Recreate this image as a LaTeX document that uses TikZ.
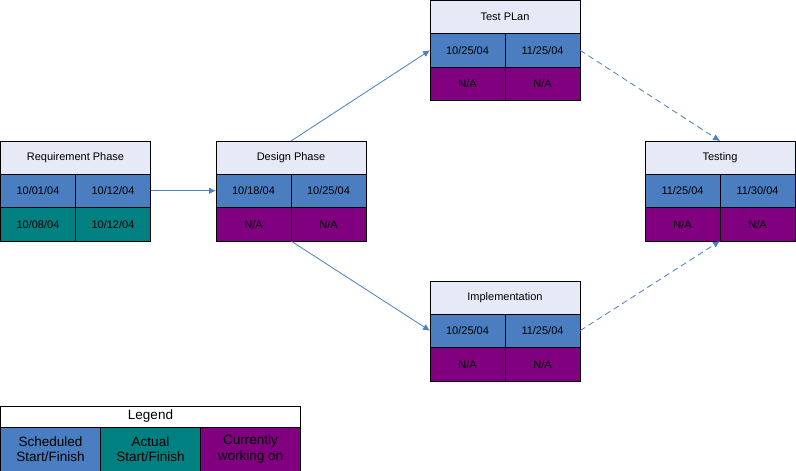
\documentclass[tikz,border=0pt]{standalone}
\usepackage{fontspec}
\setmainfont{Liberation Sans}
\usepackage{tikz}
\usetikzlibrary{arrows.meta,positioning}
\usepackage{xcolor}
\definecolor{titlefill}{RGB}{230,234,246}
\definecolor{schedblue}{RGB}{74,126,193}
\definecolor{actualteal}{RGB}{0,128,128}
\definecolor{workpurple}{RGB}{128,0,128}
\definecolor{linkblue}{RGB}{74,126,193}

\begin{document}
\begin{tikzpicture}[
    x=1pt, y=-1pt,
    titlecell/.style={rectangle, draw=black, line width=0.8pt, fill=titlefill, minimum width=150pt, minimum height=33pt, inner sep=0pt, outer sep=0pt, font=\fontsize{11}{13}\selectfont},
    cell/.style={rectangle, draw=black, line width=0.8pt, minimum width=75pt, minimum height=33.5pt, inner sep=0pt, outer sep=0pt, font=\fontsize{11}{13}\selectfont},
    sched/.style={cell, fill=schedblue},
    actual/.style={cell, fill=actualteal},
    working/.style={cell, fill=workpurple},
    legendcell/.style={rectangle, draw=black, line width=0.8pt, align=center, minimum height=44pt, inner sep=0pt, outer sep=0pt, font=\fontsize{13.5}{15.5}\selectfont},
    arrow/.style={-{Latex[length=7pt,width=6.5pt]}, draw=linkblue, line width=0.8pt},
    dasharrow/.style={arrow, dash pattern=on 6pt off 4pt}
]
\useasboundingbox (0,0) rectangle (796,471);

% Requirement Phase
\node[titlecell, anchor=north west] (req) at (0.5,141) {Requirement Phase};
\node[sched, anchor=north west] (req-s1) at (req.south west) {10/01/04};
\node[sched, anchor=north west] (req-s2) at (req-s1.north east) {10/12/04};
\node[actual, anchor=north west] (req-a1) at (req-s1.south west) {10/08/04};
\node[actual, anchor=north west] (req-a2) at (req-a1.north east) {10/12/04};

% Design Phase
\node[titlecell, anchor=north west] (des) at (216,141) {Design Phase};
\node[sched, anchor=north west] (des-s1) at (des.south west) {10/18/04};
\node[sched, anchor=north west] (des-s2) at (des-s1.north east) {10/25/04};
\node[working, anchor=north west] (des-a1) at (des-s1.south west) {N/A};
\node[working, anchor=north west] (des-a2) at (des-a1.north east) {N/A};

% Test PLan
\node[titlecell, anchor=north west] (tpl) at (430,0.5) {Test PLan};
\node[sched, anchor=north west] (tpl-s1) at (tpl.south west) {10/25/04};
\node[sched, anchor=north west] (tpl-s2) at (tpl-s1.north east) {11/25/04};
\node[working, anchor=north west] (tpl-a1) at (tpl-s1.south west) {N/A};
\node[working, anchor=north west] (tpl-a2) at (tpl-a1.north east) {N/A};

% Implementation
\node[titlecell, anchor=north west] (imp) at (430,281) {Implementation};
\node[sched, anchor=north west] (imp-s1) at (imp.south west) {10/25/04};
\node[sched, anchor=north west] (imp-s2) at (imp-s1.north east) {11/25/04};
\node[working, anchor=north west] (imp-a1) at (imp-s1.south west) {N/A};
\node[working, anchor=north west] (imp-a2) at (imp-a1.north east) {N/A};

% Testing
\node[titlecell, anchor=north west] (tst) at (645,141) {Testing};
\node[sched, anchor=north west] (tst-s1) at (tst.south west) {11/25/04};
\node[sched, anchor=north west] (tst-s2) at (tst-s1.north east) {11/30/04};
\node[working, anchor=north west] (tst-a1) at (tst-s1.south west) {N/A};
\node[working, anchor=north west] (tst-a2) at (tst-a1.north east) {N/A};

% Legend
\node[legendcell, fill=white, minimum width=300pt, minimum height=21pt, anchor=north west] (leg) at (0.5,406) {Legend};
\node[legendcell, fill=schedblue, minimum width=100pt, anchor=north west] (leg-s) at (leg.south west) {Scheduled\\Start/Finish};
\node[legendcell, fill=actualteal, minimum width=100pt, anchor=north west] (leg-a) at (leg-s.north east) {Actual\\Start/Finish};
\node[legendcell, fill=workpurple, minimum width=100pt, anchor=north west] (leg-w) at (leg-a.north east) {Currently\\working on};

% links
\draw[arrow] (req-s2.east) -- (des-s1.west);
\draw[arrow] (des.north) -- (tpl-s1.west);
\draw[arrow] (des-a1.south east) -- (imp-s1.west);
\draw[dasharrow] (tpl-s2.east) -- (tst.north);
\draw[dasharrow] (imp-s2.east) -- (tst-a1.south east);
\end{tikzpicture}
\end{document}
